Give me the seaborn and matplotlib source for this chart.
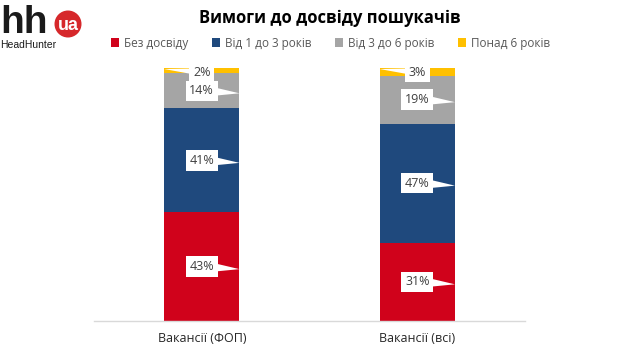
import matplotlib
matplotlib.use("Agg")
import matplotlib.pyplot as plt
import seaborn as sns
import pandas as pd
from matplotlib.patches import Circle, Patch

categories = ["Вакансії (ФОП)", "Вакансії (всі)"]
series = ["Без досвіду", "Від 1 до 3 років", "Від 3 до 6 років", "Понад 6 років"]
no_exp = [43, 31]
y1_3 = [41, 47]
y3_6 = [14, 19]
over6 = [2, 3]
colors = ["#D0021B", "#1F497D", "#A5A5A5", "#FFC000"]

sns.set_theme(style="white")
plt.rcParams['font.family'] = ['Open Sans', 'DejaVu Sans']

fig = plt.figure(figsize=(6.24, 3.51), dpi=100)
ax = fig.add_axes([94/624, 30/351, 431/624, 253/351])

values = [no_exp, y1_3, y3_6, over6]
bottom = [0, 0]
for name, vals, col in zip(series, values, colors):
    df = pd.DataFrame({"cat": categories, "val": vals})
    sns.barplot(data=df, x="cat", y="val", color=col, width=0.35,
                bottom=bottom, ax=ax, saturation=1, edgecolor="none")
    bottom = [b + v for b, v in zip(bottom, vals)]

ax.set_xlim(-0.5, 1.5)
ax.set_ylim(0, 100)
ax.set_xlabel("")
ax.set_ylabel("")
ax.set_yticks([])
for s in ["top", "right", "left"]:
    ax.spines[s].set_visible(False)
ax.spines["bottom"].set_color("#D9D9D9")
ax.spines["bottom"].set_linewidth(1)
ax.tick_params(axis="x", length=0, pad=8, labelsize=9, colors="#262626")

half = 0.175
bbox = dict(boxstyle="square,pad=0.3", fc="white", ec="none")
for i in range(2):
    cum = 0
    for k, vals in enumerate(values):
        v = vals[i]
        if k < 3:
            yc = cum + v / 2
            xy = (i + half, yc - 1)
            xt = (i, yc)
            tw = 1.0
        else:
            xy = (i - half, 99.6)
            xt = (i, 98.4)
            tw = 0.6
        ax.annotate(f"{v}%", xy=xy, xytext=xt,
                    ha="center", va="center", fontsize=9, color="#404040",
                    bbox=bbox, annotation_clip=False,
                    arrowprops=dict(arrowstyle=f"wedge,tail_width={tw},shrink_factor=0.5",
                                    fc="white", ec="none", patchA=None,
                                    shrinkA=0, shrinkB=0))
        cum += v

fig.text(330/624, 1 - 18/351, "Вимоги до досвіду пошукачів", ha="center", va="center",
         fontsize=12, fontweight="bold", color="#000000")

handles = [Patch(facecolor=c, edgecolor="none") for c in colors]
fig.legend(handles, series, loc="center", bbox_to_anchor=(0.53, 1 - 43/351), ncol=4,
           frameon=False, fontsize=8.5, handlelength=0.7, handleheight=0.7,
           handletextpad=0.4, columnspacing=2.0, labelcolor="#595959")

# logo
fig.text(0/624, 1 - 33/351, "hh", ha="left", va="baseline", fontsize=28,
         fontweight="bold", color="#1a1a1a", family=["Liberation Sans", "DejaVu Sans"])
fig.text(0/624, 1 - 45/351, "HeadHunter", ha="left", va="center", fontsize=7.5,
         color="#1a1a1a", family=["Liberation Sans Narrow", "Liberation Sans", "DejaVu Sans"])
circ = Circle((68, 351 - 24), 13.5, transform=None, facecolor="#D6282B", edgecolor="none")
fig.patches.append(circ)
fig.text(68/624, 1 - 25/351, "ua", ha="center", va="center", fontsize=13,
         fontweight="bold", color="white", family=["Liberation Sans", "DejaVu Sans"])

fig.savefig("out.png", dpi=100)
